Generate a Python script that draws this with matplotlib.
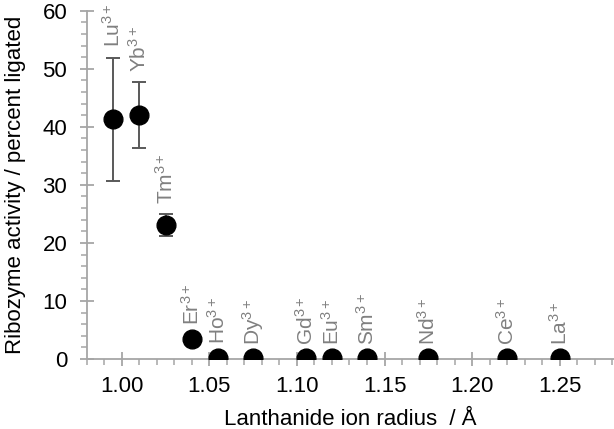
import numpy as np
import matplotlib
matplotlib.use('Agg')
import matplotlib.pyplot as plt
from matplotlib.ticker import MultipleLocator

plt.rcParams['font.family'] = ['Liberation Sans', 'DejaVu Sans']
plt.rcParams['mathtext.fontset'] = 'custom'
plt.rcParams['mathtext.rm'] = 'Liberation Sans'
plt.rcParams['mathtext.it'] = 'Liberation Sans'
plt.rcParams['mathtext.bf'] = 'Liberation Sans:bold'

# data
ions = ['Lu', 'Yb', 'Tm', 'Er', 'Ho', 'Dy', 'Gd', 'Eu', 'Sm', 'Nd', 'Ce', 'La']
radius = [0.995, 1.01, 1.025, 1.04, 1.055, 1.075, 1.105, 1.12, 1.14, 1.175, 1.22, 1.25]
activity = [41.4, 42.0, 23.0, 3.4, 0.2, 0.1, 0.1, 0.1, 0.1, 0.1, 0.1, 0.1]
err_low = [10.7, 5.6, 1.8, 0, 0, 0, 0, 0, 0, 0, 0, 0]
err_high = [10.5, 5.7, 1.9, 0, 0, 0, 0, 0, 0, 0, 0, 0]

axis_grey = '#a6a6a6'
label_grey = '#808080'

fig = plt.figure(figsize=(6.14, 4.29), dpi=100)
ax = fig.add_axes([0.1412, 0.1632, 0.8588, 0.8118])

ax.errorbar(radius, activity, yerr=[err_low, err_high], fmt='o', color='black',
            ms=13.5, ecolor='#595959', elinewidth=1.4, capsize=5, capthick=1.4,
            zorder=3)

for name, x, y, eh in zip(ions, radius, activity, err_high):
    if eh > 0:
        top, off = y + eh, 7.5
    else:
        top, off = y, 10
    ax.annotate(name + r'$^{3+}$', (x, top), xytext=(0, off),
                textcoords='offset points', rotation=90, ha='center',
                va='bottom', color=label_grey, fontsize=15)

ax.set_xlim(0.98, 1.281)
ax.set_ylim(0, 60)
ax.xaxis.set_major_locator(MultipleLocator(0.05))
ax.xaxis.set_minor_locator(MultipleLocator(0.01))
ax.yaxis.set_major_locator(MultipleLocator(10))
ax.yaxis.set_minor_locator(MultipleLocator(2))
ax.set_xticks([1.00, 1.05, 1.10, 1.15, 1.20, 1.25])
ax.set_xticklabels(['1.00', '1.05', '1.10', '1.15', '1.20', '1.25'])

for side in ['top', 'right']:
    ax.spines[side].set_visible(False)
for side in ['left', 'bottom']:
    ax.spines[side].set_color(axis_grey)
    ax.spines[side].set_linewidth(1.3)

ax.tick_params(which='major', direction='inout', length=10, width=1.3,
               color=axis_grey, labelsize=16, labelcolor='black')
ax.tick_params(axis='x', which='major', pad=7)
ax.tick_params(axis='y', which='major', pad=9)
ax.tick_params(which='minor', direction='out', length=4, width=1.1,
               color=axis_grey)

ax.set_xlabel('Lanthanide ion radius  / Å', fontsize=16, labelpad=9)
ax.set_ylabel('Ribozyme activity / percent ligated', fontsize=16, labelpad=12)
for t in ax.get_xticklabels() + ax.get_yticklabels():
    t.set_clip_on(False)

fig.savefig('out.png', dpi=100)
